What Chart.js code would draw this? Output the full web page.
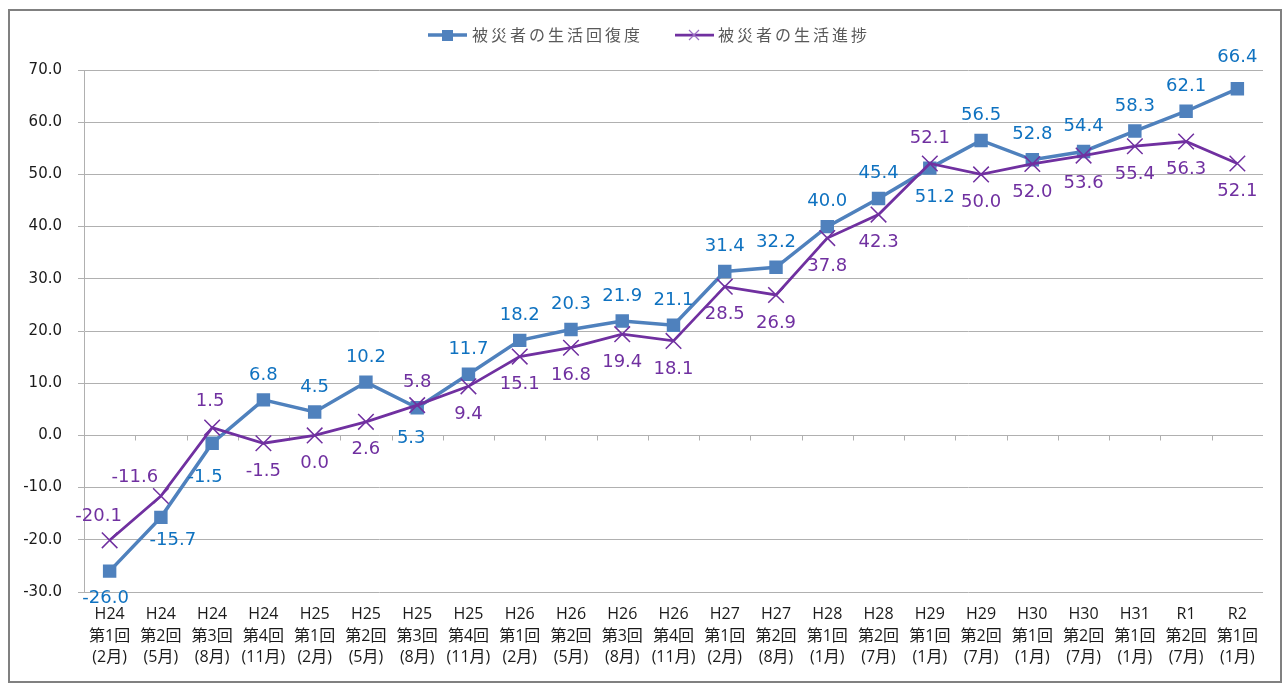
<!DOCTYPE html>
<html>
<head>
<meta charset="utf-8">
<script src="https://cdn.jsdelivr.net/npm/chart.js@4.4.1/dist/chart.umd.min.js"></script>
<style>
  html, body { margin: 0; padding: 0; background: #ffffff; }
  #wrap { width: 1287px; height: 685px; }
</style>
</head>
<body>
<div id="wrap"><canvas id="c" width="1287" height="685"></canvas></div>
<script>
// ---- data ----
const periods = ["H24","H24","H24","H24","H25","H25","H25","H25","H26","H26","H26","H26","H27","H27","H28","H28","H29","H29","H30","H30","H31","R1","R2"];
const rounds  = ["第1回","第2回","第3回","第4回","第1回","第2回","第3回","第4回","第1回","第2回","第3回","第4回","第1回","第2回","第1回","第2回","第1回","第2回","第1回","第2回","第1回","第2回","第1回"];
const months  = ["(2月)","(5月)","(8月)","(11月)","(2月)","(5月)","(8月)","(11月)","(2月)","(5月)","(8月)","(11月)","(2月)","(8月)","(1月)","(7月)","(1月)","(7月)","(1月)","(7月)","(1月)","(7月)","(1月)"];
const recovery = [-26.0,-15.7,-1.5,6.8,4.5,10.2,5.3,11.7,18.2,20.3,21.9,21.1,31.4,32.2,40.0,45.4,51.2,56.5,52.8,54.4,58.3,62.1,66.4];
const progress = [-20.1,-11.6,1.5,-1.5,0.0,2.6,5.8,9.4,15.1,16.8,19.4,18.1,28.5,26.9,37.8,42.3,52.1,50.0,52.0,53.6,55.4,56.3,52.1];
const seriesNames = ["被災者の生活回復度","被災者の生活進捗"];
const yMin = -30, yMax = 70, yStep = 10;

// ---- label placement (style) ----
const A = [0,-25], B = [0,28];
const recoveryLabelOffsets = [[-4,27],[12,23],[-7,34],A,A,A,[-6,31],A,A,A,A,A,A,A,A,A,[5,29],A,A,A,A,A,[0,-31]];
const progressLabelOffsets = [[-11,-24],[-26,-19],[-2,-26],B,B,B,[0,-23],B,B,B,B,B,B,B,B,B,A,B,B,B,B,B,B];

const BLUE = "#4F81BD", BLUE_TXT = "#0F72C0", PURPLE = "#7030A0", GRID = "#b0b0b0";
const labels = periods.map((p,i) => [p, rounds[i], months[i]]);

const frameAndTicks = {
  id: "frameAndTicks",
  beforeDraw(chart) {
    const ctx = chart.ctx;
    ctx.save();
    ctx.fillStyle = "#ffffff";
    ctx.fillRect(0,0,chart.width,chart.height);
    ctx.strokeStyle = "#808080";
    ctx.lineWidth = 2;
    ctx.strokeRect(9,10,1272,672);
    ctx.restore();
  },
  beforeDatasetsDraw(chart) {
    const ctx = chart.ctx, xs = chart.scales.x, ys = chart.scales.y;
    const y0 = Math.round(ys.getPixelForValue(0)) + 0.5;
    ctx.save();
    ctx.strokeStyle = GRID;
    ctx.lineWidth = 1;
    ctx.beginPath();
    for (let i = 1; i < labels.length; i++) {
      const x = Math.round((xs.getPixelForValue(i-1) + xs.getPixelForValue(i)) / 2) + 0.5;
      ctx.moveTo(x, y0); ctx.lineTo(x, y0 + 5);
    }
    ctx.stroke();
    ctx.restore();
  }
};

const dataLabels = {
  id: "dataLabels",
  afterDatasetsDraw(chart) {
    const ctx = chart.ctx;
    ctx.save();
    ctx.font = "18px 'DejaVu Sans'";
    ctx.textAlign = "center";
    ctx.textBaseline = "middle";
    const conf = [
      {ds: 0, vals: recovery, offs: recoveryLabelOffsets, color: BLUE_TXT},
      {ds: 1, vals: progress, offs: progressLabelOffsets, color: PURPLE}
    ];
    conf.forEach(c => {
      const meta = chart.getDatasetMeta(c.ds);
      ctx.fillStyle = c.color;
      meta.data.forEach((pt, i) => {
        const o = c.offs[i];
        ctx.fillText(c.vals[i].toFixed(1), pt.x + o[0], pt.y + o[1]);
      });
    });
    ctx.restore();
  }
};

const legendPlugin = {
  id: "customLegend",
  afterDraw(chart) {
    const ctx = chart.ctx;
    const y = 35;
    ctx.save();
    ctx.strokeStyle = BLUE; ctx.lineWidth = 3.5;
    ctx.beginPath(); ctx.moveTo(428, y); ctx.lineTo(467, y); ctx.stroke();
    ctx.fillStyle = BLUE; ctx.fillRect(442, y-5, 11, 11);
    ctx.strokeStyle = PURPLE; ctx.lineWidth = 2.75;
    ctx.beginPath(); ctx.moveTo(675, y); ctx.lineTo(714, y); ctx.stroke();
    ctx.strokeStyle = "#9b6fc3"; ctx.lineWidth = 1.2;
    ctx.beginPath();
    ctx.moveTo(689, y-5); ctx.lineTo(699, y+5);
    ctx.moveTo(699, y-5); ctx.lineTo(689, y+5);
    ctx.stroke();
    ctx.fillStyle = "#595959";
    ctx.font = "16px 'Noto Sans CJK JP'";
    ctx.letterSpacing = "3px";
    ctx.textBaseline = "middle";
    ctx.textAlign = "left";
    ctx.fillText(seriesNames[0], 472, y);
    ctx.fillText(seriesNames[1], 718, y);
    ctx.restore();
  }
};

new Chart(document.getElementById("c"), {
  type: "line",
  data: {
    labels: labels,
    datasets: [
      {
        label: seriesNames[0], data: recovery, order: 1,
        borderColor: BLUE, backgroundColor: BLUE, borderWidth: 3.5,
        pointStyle: "rect", pointRadius: 9.5, pointBackgroundColor: BLUE,
        pointBorderColor: BLUE, pointBorderWidth: 0, tension: 0, fill: false
      },
      {
        label: seriesNames[1], data: progress, order: 0,
        borderColor: PURPLE, backgroundColor: PURPLE, borderWidth: 2.75,
        pointStyle: "crossRot", pointRadius: 11, pointBorderColor: PURPLE,
        pointBorderWidth: 1.5, tension: 0, fill: false
      }
    ]
  },
  options: {
    responsive: false,
    animation: false,
    events: [],
    layout: { padding: { top: 70, right: 24, left: 0, bottom: 0 } },
    plugins: { legend: { display: false }, tooltip: { enabled: false }, title: { display: false } },
    scales: {
      x: {
        type: "category",
        offset: true,
        grid: { display: false, drawTicks: false, tickLength: 0 },
        border: { display: false },
        ticks: {
          autoSkip: false, maxRotation: 0, minRotation: 0, padding: 12,
          color: "#1a1a1a",
          font: { family: "'Open Sans', 'Noto Sans CJK JP'", size: 16, lineHeight: 1.34 }
        },
        afterFit(s) { s.height = 93; }
      },
      y: {
        min: yMin, max: yMax,
        grid: { color: GRID, lineWidth: 1, drawTicks: true, tickLength: 6 },
        border: { display: true, color: GRID, width: 1 },
        ticks: {
          stepSize: yStep, padding: 16, color: "#1a1a1a",
          font: { family: "'DejaVu Sans'", size: 15 },
          callback: v => Number(v).toFixed(1)
        },
        afterFit(s) { s.width = 84; }
      }
    }
  },
  plugins: [frameAndTicks, dataLabels, legendPlugin]
});
</script>
</body>
</html>
